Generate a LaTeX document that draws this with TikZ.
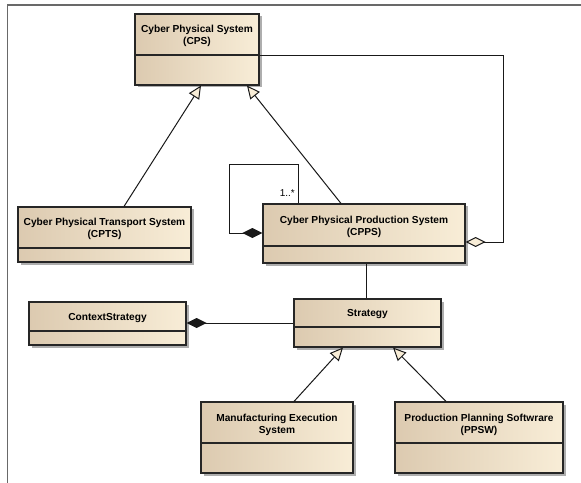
\documentclass[tikz,border=0pt]{standalone}
\usepackage{fontspec}
\setmainfont{Liberation Sans}
\usetikzlibrary{arrows.meta,shadows,fit,calc}
\definecolor{umlA}{RGB}{220,202,176}
\definecolor{umlB}{RGB}{248,237,215}
\definecolor{frameC}{RGB}{105,105,105}
\begin{document}
\begin{tikzpicture}[x=1bp,y=-1bp,
  cls/.style={draw=black!85, line width=1.1bp, left color=umlA, right color=umlB,
    inner sep=0pt, drop shadow={shadow xshift=2.5bp, shadow yshift=-2.5bp, fill=black!45, opacity=0.7}},
  divl/.style={draw=black!85, line width=1.1bp},
  lbl/.style={font=\bfseries\fontsize{10.2}{12}\selectfont, align=center, inner sep=0pt},
  conn/.style={draw=black!90, line width=1bp},
  gen/.style={conn, -{Triangle[open, fill=umlB, length=13bp, width=12bp]}},
  comp/.style={conn, -{Diamond[length=20bp, width=10bp]}},
  agg/.style={conn, -{Diamond[open, fill=umlB, length=20bp, width=10bp]}}
]
\useasboundingbox (0,0) rectangle (581,483);
% frame
\draw[frameC, line width=1.5bp] (7.5,483) -- (7.5,5) -- (581,5);

% classes
\coordinate (a1) at (135,14);  \coordinate (a2) at (259,85);
\node[cls, fit=(a1)(a2)] (cps) {};
\draw[divl] (cps.west |- 0,55) -- (cps.east |- 0,55);
\node[lbl] (cpsT) at (cps.center |- 0,35.5) {Cyber Physical System\\(CPS)};

\coordinate (b1) at (18,207);  \coordinate (b2) at (191,262);
\node[cls, fit=(b1)(b2)] (cpts) {};
\draw[divl] (cpts.west |- 0,248) -- (cpts.east |- 0,248);
\node[lbl] (cptsT) at (cpts.center |- 0,228.5) {Cyber Physical Transport System\\(CPTS)};

\coordinate (c1) at (263,204);  \coordinate (c2) at (465,263);
\node[cls, fit=(c1)(c2)] (cpps) {};
\draw[divl] (cpps.west |- 0,246) -- (cpps.east |- 0,246);
\node[lbl] (cppsT) at (cpps.center |- 0,227) {Cyber Physical Production System\\(CPPS)};

\coordinate (d1) at (294,299);  \coordinate (d2) at (441,347);
\node[cls, fit=(d1)(d2)] (strat) {};
\draw[divl] (strat.west |- 0,327) -- (strat.east |- 0,327);
\node[lbl] (stratT) at (strat.center |- 0,314) {Strategy};

\coordinate (e1) at (29,302);  \coordinate (e2) at (186,345);
\node[cls, fit=(e1)(e2)] (ctx) {};
\draw[divl] (ctx.west |- 0,331) -- (ctx.east |- 0,331);
\node[lbl] (ctxT) at (ctx.center |- 0,318) {ContextStrategy};

\coordinate (f1) at (201,402);  \coordinate (f2) at (353,473);
\node[cls, fit=(f1)(f2)] (mes) {};
\draw[divl] (mes.west |- 0,443) -- (mes.east |- 0,443);
\node[lbl] (mesT) at (mes.center |- 0,424.5) {Manufacturing Execution\\System};

\coordinate (g1) at (395,402);  \coordinate (g2) at (563,473);
\node[cls, fit=(g1)(g2)] (ppsw) {};
\draw[divl] (ppsw.west |- 0,443) -- (ppsw.east |- 0,443);
\node[lbl] (ppswT) at (ppsw.center |- 0,424.5) {Production Planning Softwrare\\(PPSW)};

% connectors
\draw[gen] (cpts.north -| 124,0) -- (cps.south -| 201,0);
\draw[gen] (cpps.north -| 341,0) -- (cps.south -| 247,0);
\draw[comp] (cpps.north -| 298,0) -- (298,165) -- (229,165) |- (cpps.west |- 0,233);
\node[font=\fontsize{10}{11}\selectfont, anchor=east, inner sep=0pt] (mult) at (295,193) {1..*};
\draw[agg] (cps.east |- 0,56) -| (503,242) -- (cpps.east |- 0,242);
\draw[conn] (cpps.south -| 366,0) -- (strat.north -| 366,0);
\draw[comp] (strat.west |- 0,323) -- (ctx.east |- 0,323);
\draw[gen] (mes.north -| 294,0) -- (strat.south -| 343,0);
\draw[gen] (ppsw.north -| 446,0) -- (strat.south -| 393,0);
\end{tikzpicture}
\end{document}
